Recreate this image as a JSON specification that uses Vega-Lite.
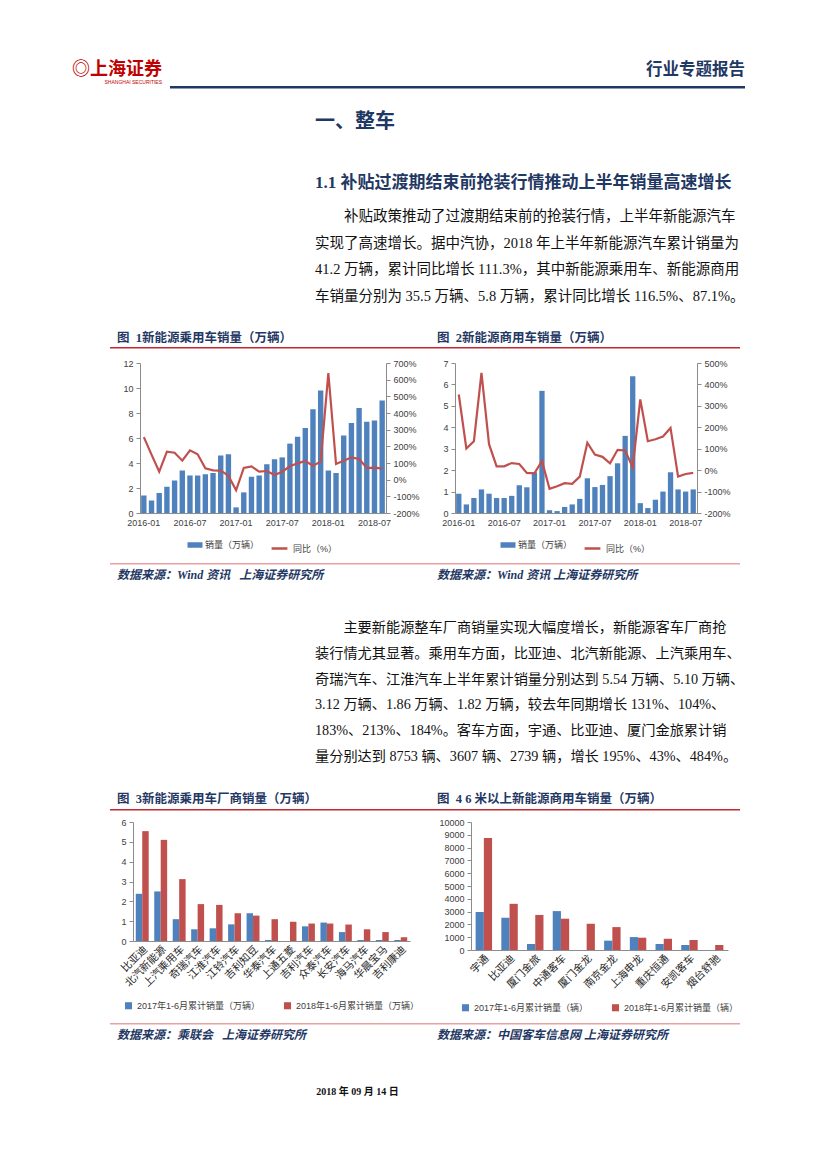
{
  "$schema": "https://vega.github.io/schema/vega-lite/v6.json",
  "padding": 0,
  "background": "white",
  "spacing": 0,
  "bounds": "full",
  "resolve": {"scale": {"fill": "independent", "stroke": "independent", "xOffset": "independent"}, "legend": {"fill": "independent", "stroke": "independent"}},
  "datasets": {
    "pc": [
      {"month": "2016-01", "sales": 1.4, "yoy": 255}, {"month": "2016-02", "sales": 1.0, "yoy": 150}, {"month": "2016-03", "sales": 1.6, "yoy": 48}, {"month": "2016-04", "sales": 2.1, "yoy": 168},
      {"month": "2016-05", "sales": 2.6, "yoy": 162}, {"month": "2016-06", "sales": 3.4, "yoy": 114}, {"month": "2016-07", "sales": 3.0, "yoy": 176}, {"month": "2016-08", "sales": 3.0, "yoy": 152},
      {"month": "2016-09", "sales": 3.1, "yoy": 68}, {"month": "2016-10", "sales": 3.2, "yoy": 56}, {"month": "2016-11", "sales": 4.6, "yoy": 54}, {"month": "2016-12", "sales": 4.7, "yoy": 24},
      {"month": "2017-01", "sales": 0.45, "yoy": -64}, {"month": "2017-02", "sales": 1.65, "yoy": 70}, {"month": "2017-03", "sales": 2.9, "yoy": 80}, {"month": "2017-04", "sales": 3.0, "yoy": 48},
      {"month": "2017-05", "sales": 3.9, "yoy": 52}, {"month": "2017-06", "sales": 4.3, "yoy": 28}, {"month": "2017-07", "sales": 4.45, "yoy": 48}, {"month": "2017-08", "sales": 5.55, "yoy": 80},
      {"month": "2017-09", "sales": 6.1, "yoy": 98}, {"month": "2017-10", "sales": 6.8, "yoy": 112}, {"month": "2017-11", "sales": 8.3, "yoy": 84}, {"month": "2017-12", "sales": 9.8, "yoy": 108},
      {"month": "2018-01", "sales": 3.4, "yoy": 640}, {"month": "2018-02", "sales": 3.2, "yoy": 94}, {"month": "2018-03", "sales": 6.2, "yoy": 114}, {"month": "2018-04", "sales": 7.2, "yoy": 134},
      {"month": "2018-05", "sales": 8.4, "yoy": 124}, {"month": "2018-06", "sales": 7.3, "yoy": 70}, {"month": "2018-07", "sales": 7.4, "yoy": 72}, {"month": "2018-08", "sales": 9.0, "yoy": 66}
    ],
    "cv": [
      {"month": "2016-01", "sales": 0.9, "yoy": 353}, {"month": "2016-02", "sales": 0.4, "yoy": 101}, {"month": "2016-03", "sales": 0.7, "yoy": 135}, {"month": "2016-04", "sales": 1.1, "yoy": 454},
      {"month": "2016-05", "sales": 0.9, "yoy": 121}, {"month": "2016-06", "sales": 0.7, "yoy": 18}, {"month": "2016-07", "sales": 0.7, "yoy": 18}, {"month": "2016-08", "sales": 0.8, "yoy": 33},
      {"month": "2016-09", "sales": 1.3, "yoy": 29}, {"month": "2016-10", "sales": 1.2, "yoy": -13}, {"month": "2016-11", "sales": 1.9, "yoy": -15}, {"month": "2016-12", "sales": 5.7, "yoy": 43},
      {"month": "2017-01", "sales": 0.13, "yoy": -87}, {"month": "2017-02", "sales": 0.09, "yoy": -75}, {"month": "2017-03", "sales": 0.28, "yoy": -61}, {"month": "2017-04", "sales": 0.4, "yoy": -64},
      {"month": "2017-05", "sales": 0.66, "yoy": -30}, {"month": "2017-06", "sales": 1.62, "yoy": 128}, {"month": "2017-07", "sales": 1.21, "yoy": 73}, {"month": "2017-08", "sales": 1.31, "yoy": 62},
      {"month": "2017-09", "sales": 1.72, "yoy": 32}, {"month": "2017-10", "sales": 2.32, "yoy": 95}, {"month": "2017-11", "sales": 3.6, "yoy": 92}, {"month": "2017-12", "sales": 6.38, "yoy": 13},
      {"month": "2018-01", "sales": 0.46, "yoy": 330}, {"month": "2018-02", "sales": 0.23, "yoy": 135}, {"month": "2018-03", "sales": 0.62, "yoy": 144}, {"month": "2018-04", "sales": 1.0, "yoy": 157},
      {"month": "2018-05", "sales": 1.9, "yoy": 197}, {"month": "2018-06", "sales": 1.1, "yoy": -30}, {"month": "2018-07", "sales": 1.0, "yoy": -18}, {"month": "2018-08", "sales": 1.1, "yoy": -13}
    ],
    "oem": [
      {"maker": "比亚迪", "period": "2017年1-6月累计销量（万辆）", "value": 2.38}, {"maker": "比亚迪", "period": "2018年1-6月累计销量（万辆）", "value": 5.54},
      {"maker": "北汽新能源", "period": "2017年1-6月累计销量（万辆）", "value": 2.5}, {"maker": "北汽新能源", "period": "2018年1-6月累计销量（万辆）", "value": 5.1},
      {"maker": "上汽乘用车", "period": "2017年1-6月累计销量（万辆）", "value": 1.1}, {"maker": "上汽乘用车", "period": "2018年1-6月累计销量（万辆）", "value": 3.12},
      {"maker": "奇瑞汽车", "period": "2017年1-6月累计销量（万辆）", "value": 0.59}, {"maker": "奇瑞汽车", "period": "2018年1-6月累计销量（万辆）", "value": 1.86},
      {"maker": "江淮汽车", "period": "2017年1-6月累计销量（万辆）", "value": 0.64}, {"maker": "江淮汽车", "period": "2018年1-6月累计销量（万辆）", "value": 1.82},
      {"maker": "江铃汽车", "period": "2017年1-6月累计销量（万辆）", "value": 0.84}, {"maker": "江铃汽车", "period": "2018年1-6月累计销量（万辆）", "value": 1.4},
      {"maker": "吉利知豆", "period": "2017年1-6月累计销量（万辆）", "value": 1.4}, {"maker": "吉利知豆", "period": "2018年1-6月累计销量（万辆）", "value": 1.28},
      {"maker": "华泰汽车", "period": "2017年1-6月累计销量（万辆）", "value": 0.05}, {"maker": "华泰汽车", "period": "2018年1-6月累计销量（万辆）", "value": 1.1},
      {"maker": "上通五菱", "period": "2017年1-6月累计销量（万辆）", "value": 0}, {"maker": "上通五菱", "period": "2018年1-6月累计销量（万辆）", "value": 0.97},
      {"maker": "吉利汽车", "period": "2017年1-6月累计销量（万辆）", "value": 0.74}, {"maker": "吉利汽车", "period": "2018年1-6月累计销量（万辆）", "value": 0.88},
      {"maker": "众泰汽车", "period": "2017年1-6月累计销量（万辆）", "value": 0.93}, {"maker": "众泰汽车", "period": "2018年1-6月累计销量（万辆）", "value": 0.88},
      {"maker": "长安汽车", "period": "2017年1-6月累计销量（万辆）", "value": 0.45}, {"maker": "长安汽车", "period": "2018年1-6月累计销量（万辆）", "value": 0.83},
      {"maker": "海马汽车", "period": "2017年1-6月累计销量（万辆）", "value": 0.05}, {"maker": "海马汽车", "period": "2018年1-6月累计销量（万辆）", "value": 0.59},
      {"maker": "华晨宝马", "period": "2017年1-6月累计销量（万辆）", "value": 0.05}, {"maker": "华晨宝马", "period": "2018年1-6月累计销量（万辆）", "value": 0.45},
      {"maker": "吉利康迪", "period": "2017年1-6月累计销量（万辆）", "value": 0.05}, {"maker": "吉利康迪", "period": "2018年1-6月累计销量（万辆）", "value": 0.19}
    ],
    "bus": [
      {"maker": "宇通", "period": "2017年1-6月累计销量（辆）", "value": 2970}, {"maker": "宇通", "period": "2018年1-6月累计销量（辆）", "value": 8753},
      {"maker": "比亚迪", "period": "2017年1-6月累计销量（辆）", "value": 2520}, {"maker": "比亚迪", "period": "2018年1-6月累计销量（辆）", "value": 3607},
      {"maker": "厦门金旅", "period": "2017年1-6月累计销量（辆）", "value": 469}, {"maker": "厦门金旅", "period": "2018年1-6月累计销量（辆）", "value": 2739},
      {"maker": "中通客车", "period": "2017年1-6月累计销量（辆）", "value": 3040}, {"maker": "中通客车", "period": "2018年1-6月累计销量（辆）", "value": 2445},
      {"maker": "厦门金龙", "period": "2017年1-6月累计销量（辆）", "value": 0}, {"maker": "厦门金龙", "period": "2018年1-6月累计销量（辆）", "value": 2050},
      {"maker": "南京金龙", "period": "2017年1-6月累计销量（辆）", "value": 730}, {"maker": "南京金龙", "period": "2018年1-6月累计销量（辆）", "value": 1790},
      {"maker": "上海申龙", "period": "2017年1-6月累计销量（辆）", "value": 1010}, {"maker": "上海申龙", "period": "2018年1-6月累计销量（辆）", "value": 960},
      {"maker": "重庆恒通", "period": "2017年1-6月累计销量（辆）", "value": 470}, {"maker": "重庆恒通", "period": "2018年1-6月累计销量（辆）", "value": 880},
      {"maker": "安凯客车", "period": "2017年1-6月累计销量（辆）", "value": 390}, {"maker": "安凯客车", "period": "2018年1-6月累计销量（辆）", "value": 780},
      {"maker": "烟台舒驰", "period": "2017年1-6月累计销量（辆）", "value": 0}, {"maker": "烟台舒驰", "period": "2018年1-6月累计销量（辆）", "value": 390}
    ]
  },
  "vconcat": [
    {"width": 1, "height": 60, "data": {"values": []}, "mark": "point"},
    {"hconcat": [
      {"width": 170, "height": 1, "data": {"values": []}, "mark": "point",
       "title": {"text": "◎上海证券", "subtitle": "SHANGHAI SECURITIES", "orient": "bottom", "anchor": "end", "dx": -8, "offset": 0,
                 "font": "Noto Sans CJK SC", "fontSize": 18, "fontWeight": "bold", "color": "#C00000",
                 "subtitleFont": "Liberation Sans", "subtitleFontSize": 5, "subtitleColor": "#C00000", "subtitlePadding": 1}},
      {"width": 575, "height": 1, "data": {"values": []}, "mark": "point",
       "title": {"text": "行业专题报告", "orient": "bottom", "anchor": "end", "offset": 1, "font": "Noto Sans CJK SC", "fontSize": 16.5, "fontWeight": "bold", "color": "#1F3864"}},
      {"width": 1, "height": 26, "data": {"values": []}, "mark": "point"}
    ], "spacing": 0, "bounds": "flush"},
    {"hconcat": [
      {"width": 170, "height": 1, "data": {"values": []}, "mark": "point"},
      {"width": 575, "height": 2.5, "data": {"values": []}, "mark": "point", "view": {"fill": "#1F3864", "stroke": null}},
      {"width": 1, "height": 25, "data": {"values": []}, "mark": "point"}
    ], "spacing": 0, "bounds": "flush"},
    {"hconcat": [
      {"width": 315, "height": 1, "data": {"values": []}, "mark": "point"},
      {"width": 425, "height": 1, "data": {"values": []}, "mark": "point",
       "title": {"text": "一、整车", "orient": "bottom", "anchor": "start", "offset": 0, "font": "Noto Sans CJK SC", "fontSize": 20, "fontWeight": "bold", "color": "#1F3864"}},
      {"width": 1, "height": 63, "data": {"values": []}, "mark": "point"}
    ], "spacing": 0, "bounds": "flush"},
    {"hconcat": [
      {"width": 315, "height": 1, "data": {"values": []}, "mark": "point"},
      {"width": 425, "height": 1, "data": {"values": []}, "mark": "point",
       "title": {"text": "1.1 补贴过渡期结束前抢装行情推动上半年销量高速增长", "orient": "bottom", "anchor": "start", "offset": 0,
                 "font": "Liberation Serif, Noto Sans CJK SC", "fontSize": 17, "fontWeight": "bold", "color": "#1F3864",
                 "subtitle": ["\u200b\u3000\u3000补贴政策推动了过渡期结束前的抢装行情，上半年新能源汽车", "实现了高速增长。据中汽协，2018 年上半年新能源汽车累计销量为", "41.2 万辆，累计同比增长 111.3%，其中新能源乘用车、新能源商用", "车销量分别为 35.5 万辆、5.8 万辆，累计同比增长 116.5%、87.1%。"],
                 "subtitleFont": "Liberation Serif, Noto Sans CJK SC", "subtitleFontSize": 14.5, "subtitleColor": "#111111", "subtitleLineHeight": 26.6, "subtitlePadding": 18}},
      {"width": 1, "height": 157, "data": {"values": []}, "mark": "point"}
    ], "spacing": 0, "bounds": "flush"},
    {"hconcat": [
      {"width": 110, "height": 1, "data": {"values": []}, "mark": "point"},
      {"width": 320, "height": 1, "data": {"values": []}, "mark": "point",
       "title": {"text": "图\u00a0\u00a01新能源乘用车销量（万辆）", "orient": "bottom", "anchor": "start", "dx": 7, "offset": 0, "font": "Liberation Serif, Noto Sans CJK SC", "fontSize": 12.5, "fontWeight": "bold", "color": "#1F3864"}},
      {"width": 310, "height": 1, "data": {"values": []}, "mark": "point",
       "title": {"text": "图\u00a0\u00a02新能源商用车销量（万辆）", "orient": "bottom", "anchor": "start", "dx": 7, "offset": 0, "font": "Liberation Serif, Noto Sans CJK SC", "fontSize": 12.5, "fontWeight": "bold", "color": "#1F3864"}},
      {"width": 1, "height": 16, "data": {"values": []}, "mark": "point"}
    ], "spacing": 0, "bounds": "flush"},
    {"hconcat": [
      {"width": 110, "height": 1, "data": {"values": []}, "mark": "point"},
      {"width": 630, "height": 1.5, "data": {"values": []}, "mark": "point", "view": {"fill": "#C0282D", "stroke": null}},
      {"width": 1, "height": 12, "data": {"values": []}, "mark": "point"}
    ], "spacing": 0, "bounds": "flush"},
    {"hconcat": [
      {"width": 140, "height": 200, "data": {"values": []}, "mark": "point"},
      {"width": 246, "height": 150, "data": {"name": "pc"},
       "encoding": {"x": {"field": "month", "type": "ordinal", "sort": null, "scale": {"paddingInner": 0.3, "paddingOuter": 0.15},
                          "axis": {"values": ["2016-01", "2016-07", "2017-01", "2017-07", "2018-01", "2018-07"], "labelAngle": 0, "ticks": false, "labelPadding": 5, "title": null}}},
       "layer": [
         {"mark": {"type": "bar"},
          "encoding": {"y": {"field": "sales", "type": "quantitative", "scale": {"domain": [0, 12]}, "axis": {"values": [0, 2, 4, 6, 8, 10, 12], "title": null}},
                       "fill": {"datum": "销量（万辆）", "type": "nominal", "scale": {"range": ["#4F81BD"]}, "legend": {"symbolType": "M-1.5,-0.55H1.5V0.55H-1.5Z", "symbolSize": 100}}}},
         {"mark": {"type": "line", "strokeWidth": 2.2},
          "encoding": {"y": {"field": "yoy", "type": "quantitative", "scale": {"domain": [-200, 700]}, "axis": {"orient": "right", "values": [-200, -100, 0, 100, 200, 300, 400, 500, 600, 700], "labelExpr": "datum.value + '%'", "title": null}},
                       "stroke": {"datum": "同比（%）", "type": "nominal", "scale": {"range": ["#C0504D"]}, "legend": {"symbolType": "stroke", "symbolStrokeWidth": 2.5, "symbolSize": 250}}}}
       ],
       "resolve": {"scale": {"y": "independent", "fill": "independent", "stroke": "independent"}}},
      {"width": 69, "height": 1, "data": {"values": []}, "mark": "point"},
      {"width": 242, "height": 150, "data": {"name": "cv"},
       "encoding": {"x": {"field": "month", "type": "ordinal", "sort": null, "scale": {"paddingInner": 0.3, "paddingOuter": 0.15},
                          "axis": {"values": ["2016-01", "2016-07", "2017-01", "2017-07", "2018-01", "2018-07"], "labelAngle": 0, "ticks": false, "labelPadding": 5, "title": null}}},
       "layer": [
         {"mark": {"type": "bar"},
          "encoding": {"y": {"field": "sales", "type": "quantitative", "scale": {"domain": [0, 7]}, "axis": {"values": [0, 1, 2, 3, 4, 5, 6, 7], "title": null}},
                       "fill": {"datum": "销量（万辆）", "type": "nominal", "scale": {"range": ["#4F81BD"]}, "legend": {"symbolType": "M-1.5,-0.55H1.5V0.55H-1.5Z", "symbolSize": 100}}}},
         {"mark": {"type": "line", "strokeWidth": 2.2},
          "encoding": {"y": {"field": "yoy", "type": "quantitative", "scale": {"domain": [-200, 500]}, "axis": {"orient": "right", "values": [-200, -100, 0, 100, 200, 300, 400, 500], "labelExpr": "datum.value + '%'", "title": null}},
                       "stroke": {"datum": "同比（%）", "type": "nominal", "scale": {"range": ["#C0504D"]}, "legend": {"symbolType": "stroke", "symbolStrokeWidth": 2.5, "symbolSize": 250}}}}
       ],
       "resolve": {"scale": {"y": "independent", "fill": "independent", "stroke": "independent"}}}
    ], "spacing": 0, "bounds": "flush",
       "resolve": {"scale": {"fill": "independent", "stroke": "independent"}, "legend": {"fill": "independent", "stroke": "independent"}}},
    {"hconcat": [
      {"width": 110, "height": 1, "data": {"values": []}, "mark": "point"},
      {"width": 320, "height": 1.5, "data": {"values": []}, "mark": "point", "view": {"fill": "#E8A0A0", "stroke": null},
       "title": {"text": "数据来源：Wind 资讯\u00a0\u00a0\u00a0上海证券研究所", "orient": "bottom", "anchor": "start", "dx": 7, "offset": 5, "font": "Liberation Serif, Noto Sans CJK SC", "fontSize": 12, "fontWeight": "bold", "fontStyle": "italic", "color": "#1F3864"}},
      {"width": 310, "height": 1.5, "data": {"values": []}, "mark": "point", "view": {"fill": "#E8A0A0", "stroke": null},
       "title": {"text": "数据来源：Wind 资讯 上海证券研究所", "orient": "bottom", "anchor": "start", "dx": 7, "offset": 5, "font": "Liberation Serif, Noto Sans CJK SC", "fontSize": 12, "fontWeight": "bold", "fontStyle": "italic", "color": "#1F3864"}},
      {"width": 1, "height": 57, "data": {"values": []}, "mark": "point"}
    ], "spacing": 0, "bounds": "flush"},
    {"hconcat": [
      {"width": 315, "height": 1, "data": {"values": []}, "mark": "point"},
      {"width": 425, "height": 1, "data": {"values": []}, "mark": "point",
       "title": {"text": ["\u200b\u3000\u3000主要新能源整车厂商销量实现大幅度增长，新能源客车厂商抢", "装行情尤其显著。乘用车方面，比亚迪、北汽新能源、上汽乘用车、", "奇瑞汽车、江淮汽车上半年累计销量分别达到 5.54 万辆、5.10 万辆、", "3.12 万辆、1.86 万辆、1.82 万辆，较去年同期增长 131%、104%、", "183%、213%、184%。客车方面，宇通、比亚迪、厦门金旅累计销", "量分别达到 8753 辆、3607 辆、2739 辆，增长 195%、43%、484%。"],
                 "orient": "bottom", "anchor": "start", "offset": 0, "font": "Liberation Serif, Noto Sans CJK SC", "fontSize": 14.2, "fontWeight": "normal", "color": "#111111", "lineHeight": 25.8}},
      {"width": 1, "height": 172, "data": {"values": []}, "mark": "point"}
    ], "spacing": 0, "bounds": "flush"},
    {"hconcat": [
      {"width": 110, "height": 1, "data": {"values": []}, "mark": "point"},
      {"width": 320, "height": 1, "data": {"values": []}, "mark": "point",
       "title": {"text": "图\u00a0\u00a03新能源乘用车厂商销量（万辆）", "orient": "bottom", "anchor": "start", "dx": 7, "offset": 0, "font": "Liberation Serif, Noto Sans CJK SC", "fontSize": 12.5, "fontWeight": "bold", "color": "#1F3864"}},
      {"width": 310, "height": 1, "data": {"values": []}, "mark": "point",
       "title": {"text": "图\u00a0\u00a04 6 米以上新能源商用车销量（万辆）", "orient": "bottom", "anchor": "start", "dx": 7, "offset": 0, "font": "Liberation Serif, Noto Sans CJK SC", "fontSize": 12.5, "fontWeight": "bold", "color": "#1F3864"}},
      {"width": 1, "height": 17, "data": {"values": []}, "mark": "point"}
    ], "spacing": 0, "bounds": "flush"},
    {"hconcat": [
      {"width": 110, "height": 1, "data": {"values": []}, "mark": "point"},
      {"width": 630, "height": 1.5, "data": {"values": []}, "mark": "point", "view": {"fill": "#C0282D", "stroke": null}},
      {"width": 1, "height": 9, "data": {"values": []}, "mark": "point"}
    ], "spacing": 0, "bounds": "flush"},
    {"hconcat": [
      {"width": 133, "height": 201, "data": {"values": []}, "mark": "point"},
      {"width": 277, "height": 119, "data": {"name": "oem"},
       "mark": {"type": "bar"},
       "encoding": {
         "x": {"field": "maker", "type": "nominal", "sort": null, "scale": {"paddingInner": 0.3, "paddingOuter": 0.15}, "axis": {"labelAngle": -45, "labelFontSize": 10.5, "labelFont": "Noto Sans CJK SC", "labelColor": "#262626", "ticks": false, "labelPadding": 3, "title": null}},
         "xOffset": {"field": "period", "type": "nominal", "sort": null, "scale": {"paddingInner": 0, "paddingOuter": 0}},
         "y": {"field": "value", "type": "quantitative", "scale": {"domain": [0, 6]}, "axis": {"values": [0, 1, 2, 3, 4, 5, 6], "title": null}},
         "fill": {"field": "period", "type": "nominal", "sort": null, "scale": {"range": ["#4F81BD", "#C0504D"]}, "legend": {"symbolType": "square", "symbolSize": 50, "columnPadding": 22}}
       }},
      {"width": 61, "height": 1, "data": {"values": []}, "mark": "point"},
      {"width": 257, "height": 128, "data": {"name": "bus"},
       "mark": {"type": "bar"},
       "encoding": {
         "x": {"field": "maker", "type": "nominal", "sort": null, "scale": {"paddingInner": 0.36, "paddingOuter": 0.18}, "axis": {"labelAngle": -45, "labelFontSize": 10.5, "labelFont": "Noto Sans CJK SC", "labelColor": "#262626", "ticks": false, "labelPadding": 3, "title": null}},
         "xOffset": {"field": "period", "type": "nominal", "sort": null, "scale": {"paddingInner": 0, "paddingOuter": 0}},
         "y": {"field": "value", "type": "quantitative", "scale": {"domain": [0, 10000]}, "axis": {"values": [0, 1000, 2000, 3000, 4000, 5000, 6000, 7000, 8000, 9000, 10000], "format": "d", "title": null}},
         "fill": {"field": "period", "type": "nominal", "sort": null, "scale": {"range": ["#4F81BD", "#C0504D"]}, "legend": {"symbolType": "square", "symbolSize": 50, "columnPadding": 22}}
       }}
    ], "spacing": 0, "bounds": "flush",
       "resolve": {"scale": {"fill": "independent", "xOffset": "independent"}, "legend": {"fill": "independent"}}},
    {"hconcat": [
      {"width": 110, "height": 1, "data": {"values": []}, "mark": "point"},
      {"width": 320, "height": 1.5, "data": {"values": []}, "mark": "point", "view": {"fill": "#E8A0A0", "stroke": null},
       "title": {"text": "数据来源：乘联会\u00a0\u00a0\u00a0上海证券研究所", "orient": "bottom", "anchor": "start", "dx": 7, "offset": 5, "font": "Liberation Serif, Noto Sans CJK SC", "fontSize": 12, "fontWeight": "bold", "fontStyle": "italic", "color": "#1F3864"}},
      {"width": 310, "height": 1.5, "data": {"values": []}, "mark": "point", "view": {"fill": "#E8A0A0", "stroke": null},
       "title": {"text": "数据来源：中国客车信息网 上海证券研究所", "orient": "bottom", "anchor": "start", "dx": 7, "offset": 5, "font": "Liberation Serif, Noto Sans CJK SC", "fontSize": 12, "fontWeight": "bold", "fontStyle": "italic", "color": "#1F3864"}},
      {"width": 1, "height": 63, "data": {"values": []}, "mark": "point"}
    ], "spacing": 0, "bounds": "flush"},
    {"hconcat": [
      {"width": 315, "height": 1, "data": {"values": []}, "mark": "point"},
      {"width": 85, "height": 1, "data": {"values": []}, "mark": "point",
       "title": {"text": "2018 年 09 月 14 日", "orient": "bottom", "anchor": "middle", "offset": 0, "font": "Liberation Serif, Noto Sans CJK SC", "fontSize": 10, "fontWeight": "bold", "color": "#111111"}},
      {"width": 1, "height": 1, "data": {"values": []}, "mark": "point"}
    ], "spacing": 0, "bounds": "flush"}
  ],
  "config": {
    "view": {"stroke": null},
    "font": "Liberation Sans, Noto Sans CJK SC",
    "axis": {"labelFont": "Liberation Sans, Noto Sans CJK SC", "labelFontSize": 9, "labelColor": "#404040", "domainColor": "#8C8C8C", "tickColor": "#8C8C8C", "grid": false, "tickSize": 4, "labelPadding": 3},
    "legend": {"orient": "bottom", "direction": "horizontal", "title": null, "labelFont": "Liberation Sans, Noto Sans CJK SC", "labelFontSize": 9, "labelColor": "#404040", "labelLimit": 300, "offset": 12, "layout": {"bottom": {"anchor": "middle", "margin": 10}}}
  }
}
